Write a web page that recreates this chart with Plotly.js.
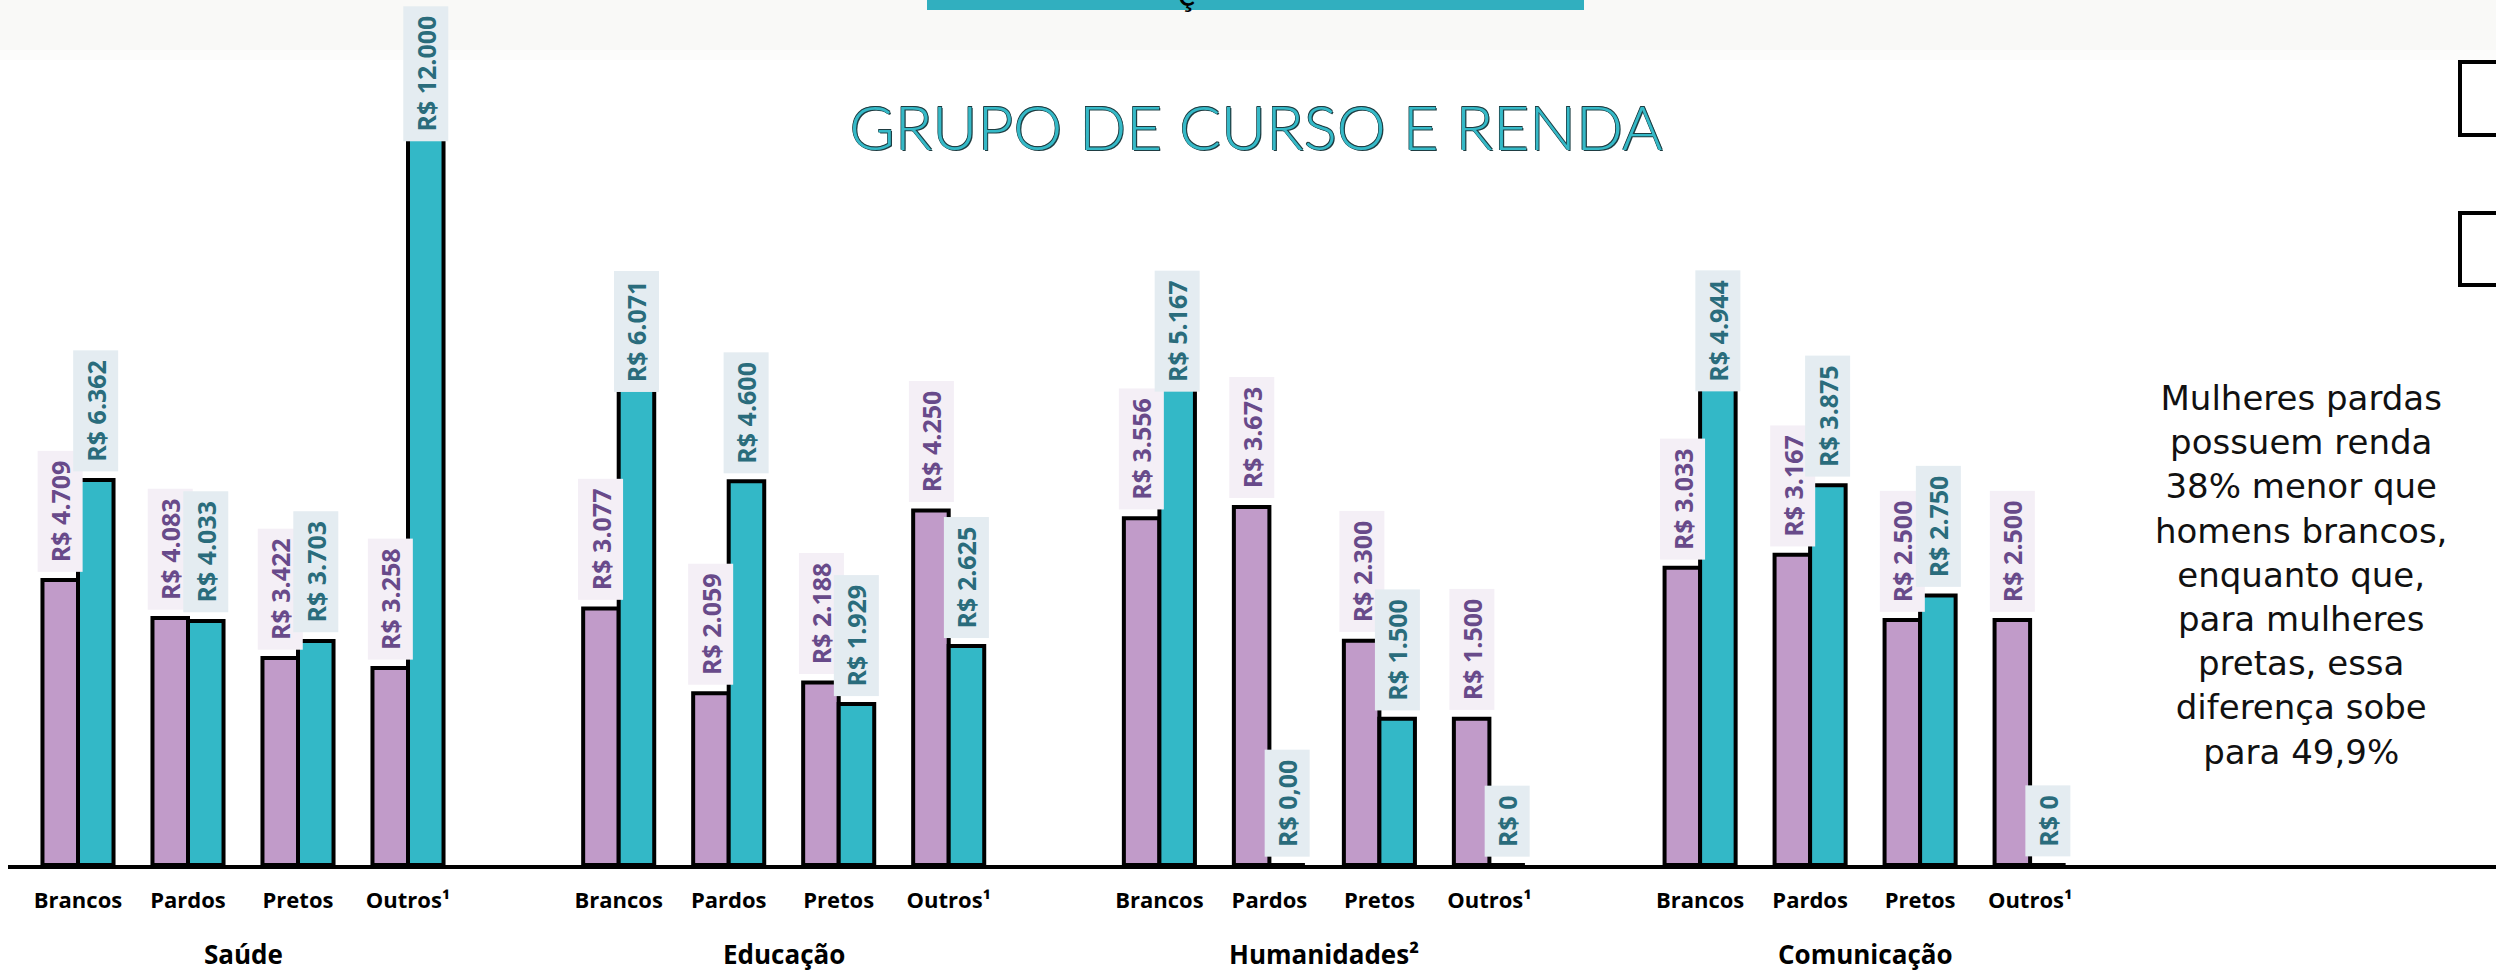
<!DOCTYPE html>
<html><head><meta charset="utf-8">
<script src="https://cdn.plot.ly/plotly-3.0.1.min.js"></script>
<style>html,body{margin:0;padding:0;background:#fff;overflow:hidden;} #chart{width:2496px;height:971px;}</style>
</head><body><div id="chart"></div>
<script>
// ---- data (four side-by-side panels, each with its own value scale) ----
const groups = ['Saúde', 'Educação', 'Humanidades²', 'Comunicação'];
const categories = ['Brancos', 'Pardos', 'Pretos', 'Outros¹'];
const mulheresSaude       = [4709, 4083, 3422, 3258];
const homensSaude         = [6362, 4033, 3703, 12000];
const mulheresEducacao    = [3077, 2059, 2188, 4250];
const homensEducacao      = [6071, 4600, 1929, 2625];
const mulheresHumanidades = [3556, 3673, 2300, 1500];
const homensHumanidades   = [5167, 0, 1500, 0];
const mulheresComunicacao = [3033, 3167, 2500, 2500];
const homensComunicacao   = [4944, 3875, 2750, 0];
const mulheresLabels = [['R$ 4.709','R$ 4.083','R$ 3.422','R$ 3.258'],
                        ['R$ 3.077','R$ 2.059','R$ 2.188','R$ 4.250'],
                        ['R$ 3.556','R$ 3.673','R$ 2.300','R$ 1.500'],
                        ['R$ 3.033','R$ 3.167','R$ 2.500','R$ 2.500']];
const homensLabels   = [['R$ 6.362','R$ 4.033','R$ 3.703','R$ 12.000'],
                        ['R$ 6.071','R$ 4.600','R$ 1.929','R$ 2.625'],
                        ['R$ 5.167','R$ 0,00','R$ 1.500','R$ 0'],
                        ['R$ 4.944','R$ 3.875','R$ 2.750','R$ 0']];
const titleText = 'GRUPO DE CURSO E RENDA';
const noteLines = ['Mulheres pardas', 'possuem renda', '38% menor que', 'homens brancos,', 'enquanto que,',
                   'para mulheres', 'pretas, essa', 'diferença sobe', 'para 49,9%'];

const mulheresByGroup = [mulheresSaude, mulheresEducacao, mulheresHumanidades, mulheresComunicacao];
const homensByGroup = [homensSaude, homensEducacao, homensHumanidades, homensComunicacao];

// ---- layout geometry ----
const W = 2496, H = 971, L = 8, R = 0, T = 100, B = 106;
const plotW = W - L - R, plotH = H - T - B, basePx = H - B;
const pxPerCat = 110;
const groupCenterPx = [78, 618.7, 1159.4, 1700.1];          // px of first category in each panel
const boundsPx = [L, 513.4, 1054, 1594.8, W];              // panel edges
const pxPerValue = [0.0605, 0.0834, 0.0975, 0.0980];       // each panel's own scale
const labelTopLimitPx = [6, 270, 270, 270];                // labels are kept inside each panel's area
const barW = 0.323;
const px = v => (v - L) / plotW;
const py = v => (basePx - v) / plotH;

const purple = '#c19bc9', teal = '#33b8c7';
const labelFontSize = 25;
const cv = document.createElement('canvas').getContext('2d');
cv.font = 'bold ' + labelFontSize + 'px "Open Sans"';
const pad = '\u2009';

const traces = [], annotations = [];
const layout = {
  width: W, height: H,
  margin: {l: L, r: R, t: T, b: B, pad: 0},
  paper_bgcolor: '#fff', plot_bgcolor: 'rgba(0,0,0,0)',
  showlegend: false, barmode: 'overlay',
  title: {text: titleText, xref: 'container', yref: 'container', x: 1256 / W, xanchor: 'center',
          y: 1 - 128 / H, yanchor: 'middle',
          font: {family: 'Lato', size: 62, weight: 300, color: '#35b9c7',
                 shadow: '1.2px 1.2px 0px #1e3d42, -0.6px -0.6px 0px #1e3d42, 0.6px -0.6px 0px #1e3d42, -0.6px 0.6px 0px #1e3d42'}}
};

groups.forEach((g, gi) => {
  const sfx = gi === 0 ? '' : String(gi + 1);
  const xa = 'x' + sfx, ya = 'y' + sfx;
  const xs = categories.map((c, ci) => ci);
  traces.push({type: 'bar', name: 'Mulheres', x: xs, y: mulheresByGroup[gi], xaxis: xa, yaxis: ya,
    width: barW, offset: -barW, marker: {color: purple, line: {color: '#000', width: 4}}, hoverinfo: 'skip'});
  traces.push({type: 'bar', name: 'Homens', x: xs, y: homensByGroup[gi], xaxis: xa, yaxis: ya,
    width: barW, offset: 0, marker: {color: teal, line: {color: '#000', width: 4}}, hoverinfo: 'skip'});

  layout['xaxis' + sfx] = {
    domain: [px(boundsPx[gi]), px(boundsPx[gi + 1])], anchor: ya,
    range: [(boundsPx[gi] - groupCenterPx[gi]) / pxPerCat, (boundsPx[gi + 1] - groupCenterPx[gi]) / pxPerCat],
    tickmode: 'array', tickvals: xs, ticktext: categories, ticks: '',
    showline: true, linecolor: '#000', linewidth: 4, showgrid: false, zeroline: false,
    ticklabelstandoff: 13,
    tickfont: {family: 'Open Sans', size: 22, weight: 700, color: '#000'}
  };
  layout['yaxis' + sfx] = {domain: [0, 1], anchor: xa, range: [0, plotH / pxPerValue[gi]],
    visible: false, showgrid: false, zeroline: false};

  const addLabel = (x, v, text, bg, color) => {
    const t = pad + text + pad;
    const len = cv.measureText(text).width + 20;
    const topPx = basePx - v * pxPerValue[gi] - 8 - len;
    const a = {x: x, xref: xa, text: t, showarrow: false, textangle: -90, xanchor: 'center',
      bgcolor: bg, borderpad: 5, font: {family: 'Open Sans', size: labelFontSize, weight: 700, color: color}};
    if (topPx < labelTopLimitPx[gi]) {
      Object.assign(a, {y: py(labelTopLimitPx[gi]), yref: 'paper', yanchor: 'top'});
    } else {
      Object.assign(a, {y: v, yref: ya, yanchor: 'bottom', yshift: 8});
    }
    annotations.push(a);
  };
  xs.forEach((x, ci) => {
    addLabel(x - barW / 2, mulheresByGroup[gi][ci], mulheresLabels[gi][ci], '#f4eff6', '#684a8a');
    addLabel(x + barW / 2, homensByGroup[gi][ci], homensLabels[gi][ci], '#e4ecf1', '#2a6c7c');
  });
  annotations.push({x: (categories.length - 1) / 2, xref: xa, y: 0, yref: 'paper',
    yanchor: 'top', yshift: -70, borderpad: 0, showarrow: false, text: g,
    font: {family: 'Open Sans', size: 26, weight: 700, color: '#000'}});
});

annotations.push({x: px(2301), y: py(575), xref: 'paper', yref: 'paper', xanchor: 'center', yanchor: 'middle',
  showarrow: false, align: 'center', text: noteLines.join('<br>'),
  font: {family: 'DejaVu Sans', size: 34, color: '#111'}});
annotations.push({x: px(1186), y: py(-8), xref: 'paper', yref: 'paper', xanchor: 'center', yanchor: 'middle',
  showarrow: false, text: 'ç', font: {family: 'Lato', size: 36, color: '#000'}});

layout.annotations = annotations;
layout.shapes = [
  {type: 'rect', xref: 'paper', yref: 'paper', x0: px(-10), x1: px(2510), y0: py(-10), y1: py(50),
   fillcolor: '#f9f9f7', line: {width: 0}, layer: 'below'},
  {type: 'rect', xref: 'paper', yref: 'paper', x0: px(-10), x1: px(2510), y0: py(50), y1: py(60),
   fillcolor: '#fcfcfb', line: {width: 0}, layer: 'below'},
  {type: 'rect', xref: 'paper', yref: 'paper', x0: px(927), x1: px(1584), y0: py(-10), y1: py(10),
   fillcolor: '#31afbf', line: {width: 0}, layer: 'above'},
  {type: 'rect', xref: 'paper', yref: 'paper', x0: px(2460), x1: px(2540), y0: py(62), y1: py(135),
   fillcolor: '#fff', line: {color: '#000', width: 4}},
  {type: 'rect', xref: 'paper', yref: 'paper', x0: px(2460), x1: px(2540), y0: py(213), y1: py(285),
   fillcolor: '#fff', line: {color: '#000', width: 4}}
];

Plotly.newPlot('chart', traces, layout, {staticPlot: true, displayModeBar: false});
</script></body></html>
